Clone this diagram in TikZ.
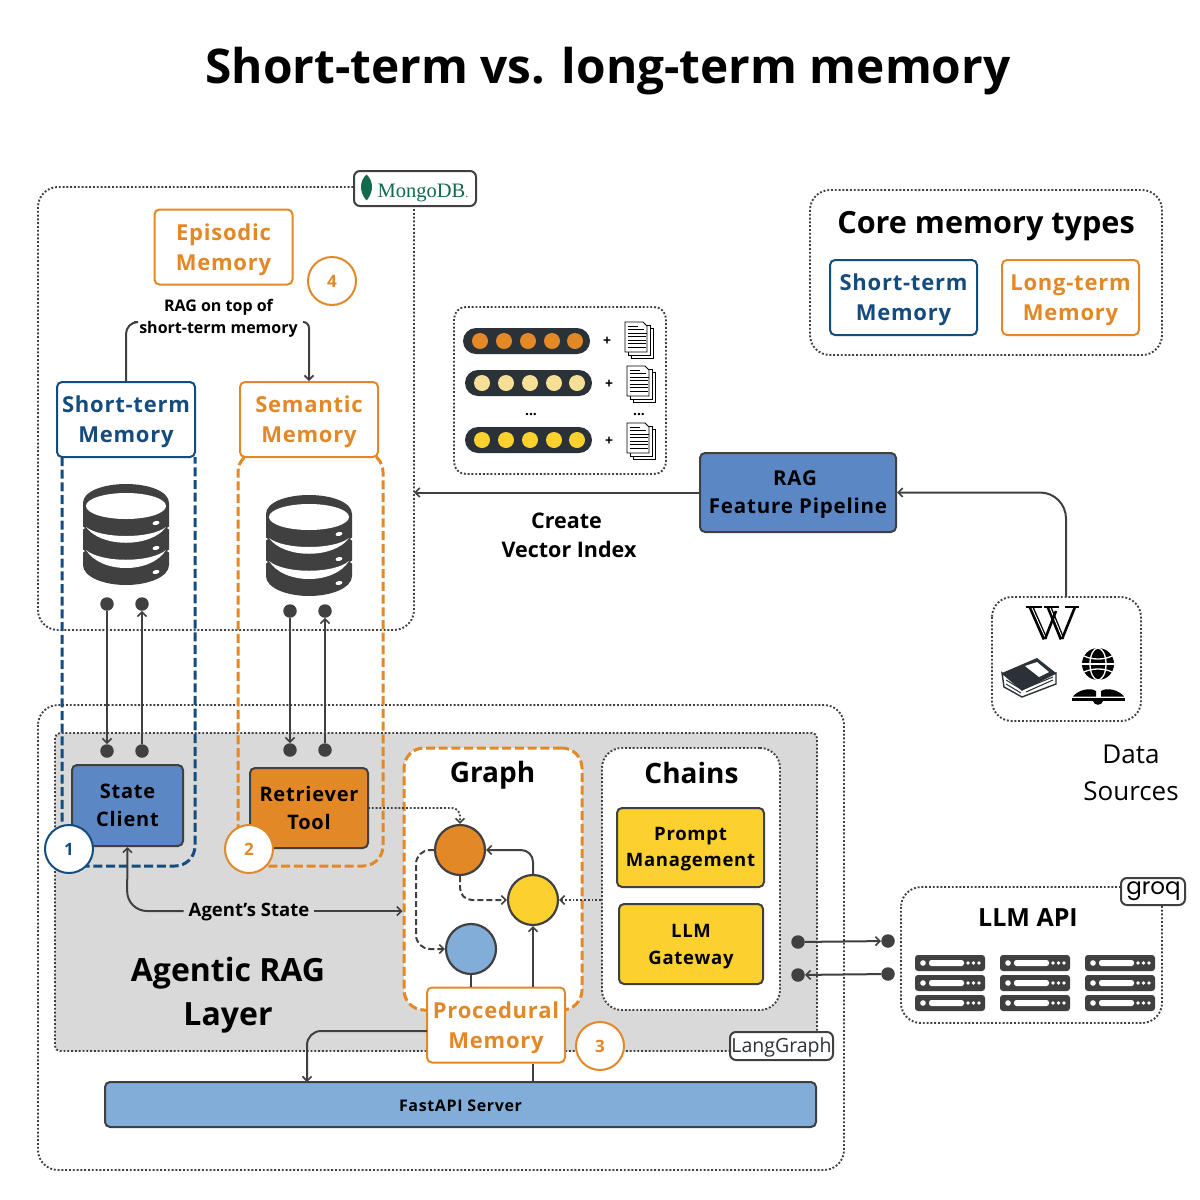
\documentclass[tikz,border=0pt]{standalone}
\usepackage{fontspec}
\setmainfont{Open Sans}
\newfontfamily\spc[LetterSpace=3.5]{Open Sans}
\newfontfamily\spcs[LetterSpace=4]{Open Sans}
\newfontfamily\mongofont{Liberation Serif}
\newfontfamily\groqfont{Poppins}
\usetikzlibrary{arrows.meta,calc}
\definecolor{cOrange}{HTML}{E38826}
\definecolor{cNavy}{HTML}{144C7E}
\definecolor{cMid}{HTML}{5B87C5}
\definecolor{cLight}{HTML}{81ADD8}
\definecolor{cYellow}{HTML}{FBD02F}
\definecolor{cPale}{HTML}{F5DF96}
\definecolor{cDark}{HTML}{404040}
\definecolor{cPill}{HTML}{2A3137}
\definecolor{cGrey}{HTML}{D9D9D9}
\definecolor{cLeaf}{HTML}{13694A}
\newcommand\memup{\rule{0pt}{22pt}}
\tikzset{
  >={Straight Barb[length=4.5pt,width=9pt,line width=1.6pt]},
  conn/.style={draw=cDark,line width=2pt},
  dotl/.style={draw=cDark,line width=1.9pt,dash pattern=on 1.9pt off 1.9pt},
  dashl/.style={draw=cDark,line width=2pt,dash pattern=on 6pt off 3pt},
  frame/.style={dotl,rounded corners=20pt},
  memdash/.style={line width=3pt,dash pattern=on 9pt off 3.7pt,rounded corners=20pt},
  bx/.style={rectangle,inner sep=0pt,align=center,rounded corners=5pt,line width=2pt,font=\fontsize{22}{30}\selectfont\spc\bfseries},
  ormem/.style={bx,draw=cOrange,fill=white,text=cOrange,minimum width=138pt,minimum height=75pt},
  blmem/.style={bx,draw=cNavy,fill=white,text=cNavy,minimum height=75pt},
  solid box/.style={bx,draw=cDark,rounded corners=5pt},
  numc/.style={circle,draw,fill=white,line width=2pt,minimum size=48pt,inner sep=0pt,font=\fontsize{17}{20}\selectfont\bfseries},
  iodot/.style={circle,fill=cDark,minimum size=13.5pt,inner sep=0pt},
  gcirc/.style={circle,draw=cDark,line width=2.2pt,minimum size=50pt,inner sep=0pt},
  tag/.style={rectangle,draw=cDark,fill=white,line width=2pt,rounded corners=6pt,inner sep=0pt},
  plainlbl/.style={inner sep=0pt,align=center},
  dbicon/.pic={
    \fill[cDark] (-43,-32) .. controls (-43,-44) and (-22,-51) .. (0,-51) .. controls (22,-51) and (43,-44) .. (43,-32)
      -- (43,30) .. controls (43,42) and (22,50) .. (0,50) .. controls (-22,50) and (-43,42) .. (-43,30) -- cycle;
    \fill[white] (0,-29) ellipse [x radius=40pt,y radius=13pt];
    \fill[white] (-40,-8) .. controls (-25,13) and (25,13) .. (40,-8) .. controls (25,4) and (-25,4) .. (-40,-8) -- cycle;
    \fill[white] (-40,15) .. controls (-25,39) and (25,39) .. (40,15) .. controls (25,28) and (-25,28) .. (-40,15) -- cycle;
    \foreach \yy in {-12,13,37}{\fill[white,rotate around={12:(30,\yy)}] (30,\yy) ellipse [x radius=3.5pt,y radius=2pt];}
    \fill[white] (-44,-9) -- (-41,-7) -- (-44,-5) -- cycle;
    \fill[white] (44,-9) -- (41,-7) -- (44,-5) -- cycle;
    \fill[white] (-44,14) -- (-41,16) -- (-44,18) -- cycle;
    \fill[white] (44,14) -- (41,16) -- (44,18) -- cycle;
  },
  docicon/.pic={
    \foreach \o in {6,3}{\draw[black,fill=white,line width=.9pt] (\o,\o) rectangle ++(22,30);}
    \draw[black,fill=white,line width=.9pt] (0,0) -- (18,0) -- (22,4) -- (22,30) -- (0,30) -- cycle;
    \foreach \yy/\l in {4/10,7.5/16,11/19,14.5/18,18/18,21.5/18,25/18}{\draw[black,line width=1pt] (2.5,\yy) -- ++(\l,0);}
  },
  srvicon/.pic={
    \foreach \yy in {0,20,40}{
      \fill[cDark,rounded corners=3pt] (0,\yy) rectangle ++(70,16);
      \fill[white] (8,\yy+8) circle [radius=2.8pt];
      \fill[white,rounded corners=2.5pt] (14,\yy+5) rectangle ++(35,6);
      \foreach \xx in {53,58.5,64}{\fill[white] (\xx,\yy+8) circle [radius=1.8pt];}
    }
  },
  pillrow/.pic={
    \fill[cPill,rounded corners=13pt] (0,0) rectangle (127,26);
    \foreach \xx in {17,41,65,89,112}{\fill[#1] (\xx,13) circle [radius=8pt];}
  },
}
\begin{document}
\begin{tikzpicture}[x=1pt,y=-1pt]
\useasboundingbox (0,0) rectangle (1200,1200);
\fill[white] (0,0) rectangle (1200,1200);

\node[plainlbl,font=\fontsize{47.8}{52}\selectfont\bfseries] (title) at (608,71) {Short-term vs. long-term memory};

% frames
\draw[frame] (38,187) rectangle (414,630);
\draw[frame] (38,705) rectangle (844,1170);
\draw[dotl,fill=cGrey,rounded corners=5pt] (55,733) rectangle (817,1051);
\draw[frame,rounded corners=12pt] (454,307) rectangle (666,474);
\draw[frame] (810,190) rectangle (1162,355);
\draw[frame] (992,597) rectangle (1141,721);
\draw[frame] (901,887) rectangle (1162,1023);

\node[inner sep=0pt,minimum width=149pt,minimum height=124pt] (datasrc) at (1066.5,659) {};
\node[inner sep=0pt,minimum width=376pt,minimum height=443pt] (mongo) at (226,408.5) {};

% dashed membership outlines
\draw[memdash,cNavy] (62,457) -- (62,866) -- (195,866) -- (195,457);
\draw[memdash,cOrange] (248,452) -- (238,452) -- (238,866) -- (383,866) -- (383,452) -- (370,452);

% tags
\node[tag,minimum width=122pt,minimum height=35pt] (mtag) at (415,188.5) {};
\node[plainlbl,font=\fontsize{20.5}{24}\selectfont\mongofont,text=cLeaf] (mtxt) at (423,193) {MongoDB{\fontsize{12}{12}\selectfont.}};
\fill[cLeaf] (366.5,174.5) .. controls (373.5,181) and (374,191) .. (367,200) -- (366,200) .. controls (359,191) and (359.5,181) .. (366.5,174.5) -- cycle;

% memory boxes
\node[ormem] (episodic) at (223.5,247) {\memup Episodic\\Memory};
\node[numc,draw=cOrange,text=cOrange] (n4) at (332,281) {4};
\node[plainlbl,font=\fontsize{16}{22}\selectfont\bfseries] (ragtxt) at (218.5,318.5) {RAG on top of\\short-term memory};
\node[blmem,minimum width=138pt] (stm) at (126,419.5) {\memup Short-term\\Memory};
\node[ormem] (sem) at (309,419.5) {\memup Semantic\\Memory};
\coordinate (ragL) at (134,322);
\coordinate (ragR) at (303,322);
\draw[conn,rounded corners=12pt] (stm.north) -- (126,322) -- (ragL);
\draw[conn,rounded corners=6pt,->] (ragR) -- (309,322) -- (sem.north);

% databases
\pic at (126,535) {dbicon};
\pic at (309,546) {dbicon};

\node[iodot] (a1) at (107,604) {};
\node[iodot] (a2) at (142,604) {};
\node[iodot] (a3) at (290,611) {};
\node[iodot] (a4) at (325,611) {};
\node[iodot] (b1) at (107,751) {};
\node[iodot] (b2) at (142,751) {};
\node[iodot] (b3) at (290,750) {};
\node[iodot] (b4) at (325,750) {};
\draw[conn,->] (a1) -- (b1);
\draw[conn,->] (b2) -- (a2);
\draw[conn,->] (a3) -- (b3);
\draw[conn,->] (b4) -- (a4);

% RAG layer boxes
\node[solid box,fill=cMid,minimum width=111pt,minimum height=81pt,font=\fontsize{20}{28}\selectfont\spcs\bfseries] (state) at (127.5,805.5) {State\\Client};
\node[solid box,fill=cOrange,minimum width=118pt,minimum height=80pt,font=\fontsize{20}{28}\selectfont\spcs\bfseries] (retr) at (309,808) {Retriever\\Tool};
\node[numc,draw=cNavy,text=cNavy] (n1) at (69,849) {1};
\node[numc,draw=cOrange,text=cOrange] (n2) at (249,849) {2};

\node[rectangle,draw=cOrange,fill=white,line width=3pt,dash pattern=on 9pt off 3.7pt,rounded corners=20pt,minimum width=178pt,minimum height=262pt,inner sep=0pt] (graph) at (493,879) {};
\node[rectangle,dotl,fill=white,rounded corners=20pt,minimum width=178pt,minimum height=262pt,inner sep=0pt] (chains) at (691,879) {};
\node[plainlbl,font=\fontsize{28}{30}\selectfont\bfseries] (graphl) at (492.5,775) {Graph};
\node[plainlbl,font=\fontsize{28}{30}\selectfont\bfseries] (chainl) at (691.5,773) {Chains};
\node[solid box,fill=cYellow,minimum width=147pt,minimum height=79pt,font=\fontsize{18.5}{26}\selectfont\spcs\bfseries] (prompt) at (690.5,847.5) {\rule{0pt}{16pt}Prompt\\Management};
\node[solid box,fill=cYellow,minimum width=144pt,minimum height=80pt,font=\fontsize{18.5}{27}\selectfont\spcs\bfseries] (gateway) at (691,944) {\rule{0pt}{19pt}LLM\\Gateway};

\node[gcirc,fill=cOrange] (gO) at (460,850) {};
\node[gcirc,fill=cYellow] (gY) at (533,900) {};
\node[gcirc,fill=cLight] (gB) at (471,949) {};

\node[ormem] (proc) at (496,1025) {\memup Procedural\\Memory};
\node[numc,draw=cOrange,text=cOrange] (n3) at (600,1046) {3};
\node[rectangle,draw=cDark,fill=cLight,line width=2pt,rounded corners=5pt,minimum width=711pt,minimum height=45pt,inner sep=0pt,font=\fontsize{16}{18}\selectfont\spcs\bfseries] (fast) at (460.5,1104.5) {\rule{0pt}{14pt}FastAPI Server};
\node[tag,minimum width=103pt,minimum height=28pt,font=\fontsize{19.5}{22}\selectfont,text=cPill] (lang) at (781.5,1046) {\rule{0pt}{17pt}LangGraph};

\coordinate (rOut) at (368,808);
\draw[dotl,rounded corners=8pt,->] (rOut) -- (460,808) -- (gO.north);
\draw[conn,rounded corners=12pt,->] (gY.north) -- (533,850) -- (gO.east);
\draw[dashl,rounded corners=14pt,->] (gO.west) -- (416,850) -- (416,949) -- (gB.west);
\draw[dashl,rounded corners=12pt,->] (gO.south) -- (460,900) -- (gY.west);
\draw[dotl,->] (chains.west |- gY) -- (gY.east);
\draw[conn,->] (proc.north -| gY) -- (gY.south);
\draw[conn] (gB.south) -- (proc.north -| gB);
\draw[conn] (proc.south -| gY) -- (fast.north -| gY);
\coordinate (procOut) at (427,1031);
\coordinate (fastIn) at (307,1082);
\draw[conn,rounded corners=14pt,->] (procOut) -- (307,1031) -- (fastIn);

\node[plainlbl,fill=cGrey,inner xsep=5pt,inner ysep=3pt,font=\fontsize{18.5}{20}\selectfont\bfseries] (agst) at (249,912) {Agent’s State};
\draw[conn,rounded corners=20pt,->] (agst.west |- 0,911) -- (127,911) -- (state.south);
\draw[conn,->] (agst.east |- 0,911) -- (graph.west |- 0,911);
\node[plainlbl,font=\fontsize{32}{44}\selectfont\bfseries] (aglbl) at (228,995) {Agentic RAG\\Layer};

% vector box
\pic at (463,328) {pillrow={cOrange}};
\pic at (465,370) {pillrow={cPale}};
\pic at (465,427) {pillrow={cYellow}};
\foreach \x/\y in {607/341,609/384,609/441}{\node[plainlbl,font=\fontsize{14}{14}\selectfont\bfseries] at (\x,\y) {+};}
\node[plainlbl,font=\fontsize{14}{14}\selectfont\bfseries] (dd1) at (531,415) {...};
\node[plainlbl,font=\fontsize{14}{14}\selectfont\bfseries] (dd2) at (639,415) {...};
\pic at (625,322) {docicon};
\pic at (627,366) {docicon};
\pic at (627,423) {docicon};

% core
\node[plainlbl,font=\fontsize{30.6}{32}\selectfont\bfseries] (coret) at (986,226) {Core memory types};
\node[blmem,minimum width=147pt] (cs) at (903.5,297.5) {\memup Short-term\\Memory};
\node[ormem,minimum height=75pt,minimum width=137pt] (cl) at (1070.5,297.5) {\memup Long-term\\Memory};

% pipeline
\node[solid box,fill=cMid,minimum width=196pt,minimum height=79pt,font=\fontsize{20.5}{28}\selectfont\spcs\bfseries] (pipe) at (798,492.5) {\rule{0pt}{18pt}\hspace*{-6pt}RAG\\Feature Pipeline};
\draw[conn,->] (pipe.west) -- (mongo.east |- pipe);
\draw[conn,rounded corners=26pt,->] (datasrc.north -| 1066,0) -- (1066,492.5) -- (pipe.east);
\node[plainlbl,font=\fontsize{21.5}{29}\selectfont\bfseries] (cvi) at (569,535.5) {\hspace*{-5pt}Create\\Vector Index};
\node[plainlbl,font=\fontsize{26}{37}\selectfont] (dsl) at (1131,772.5) {Data\\Sources};

% data source icons
\begin{scope}[black]
 \draw[line width=2.6pt] (1026,607) -- (1042,607) (1044,607) -- (1059,607) (1065,607) -- (1079,607);
 \draw[line width=5pt] (1031,607) -- (1045,639);
 \draw[line width=5pt] (1049,607) -- (1062,639);
 \draw[white,line width=.9pt] (1032,608) -- (1045,637);
 \draw[white,line width=.9pt] (1050,608) -- (1062,637);
 \draw[line width=2.6pt] (1045,639) -- (1056,611);
 \draw[line width=2.6pt] (1062,639) -- (1075,607);
 \fill[cPill] (1002,673) -- (1037,658) -- (1056,673) -- (1022,690) -- cycle;
 \fill[white] (1025,666) -- (1037,662) -- (1049,672) -- (1039,677) -- cycle;
 \draw[cPill,fill=white,line width=1.4pt] (1002,673) -- (1004,687) -- (1022,697) -- (1056,684) -- (1056,673) -- (1022,690) -- cycle;
 \draw[cPill,line width=1pt] (1006,680) -- (1021,689) (1006,684) -- (1021,693) (1026,692) -- (1053,680);
 \draw[cPill,line width=1pt] (1026,688) -- (1053,677);
 \fill (1098,664) circle [radius=16pt];
 \draw[white,line width=1.3pt] (1082,664) -- (1114,664);
 \draw[white,line width=1.3pt] (1098,664) ellipse [x radius=8pt,y radius=16pt];
 \draw[white,line width=1.3pt] (1084,656) .. controls (1092,660) and (1104,660) .. (1112,656) (1084,672) .. controls (1092,668) and (1104,668) .. (1112,672);
 \fill (1072,698) rectangle (1125,701);
 \fill (1073,696.5) .. controls (1078,690) and (1090,687) .. (1096,691) -- (1096,696.5) -- cycle;
 \fill (1124,696.5) .. controls (1119,690) and (1107,687) .. (1101,691) -- (1101,696.5) -- cycle;
 \fill (1093,701) .. controls (1094,706) and (1102,706) .. (1103,701) -- cycle;
\end{scope}

% LLM API
\node[tag,minimum width=64pt,minimum height=27pt] (groq) at (1153,891.5) {};
\node[plainlbl,font=\fontsize{23}{24}\selectfont\groqfont] (groqt) at (1153.5,891.5) {groq};
\node[plainlbl,font=\fontsize{25}{28}\selectfont\bfseries] (llmt) at (1028,918) {LLM API};
\pic at (915,955) {srvicon};
\pic at (1000,955) {srvicon};
\pic at (1085,955) {srvicon};
\node[iodot] (l1) at (798,942) {};
\node[iodot] (l2) at (888,941) {};
\node[iodot] (l3) at (798,975) {};
\node[iodot] (l4) at (888,974) {};
\draw[conn,->] (l1) -- (l2);
\draw[conn,->] (l4) -- (l3);
\end{tikzpicture}
\end{document}
